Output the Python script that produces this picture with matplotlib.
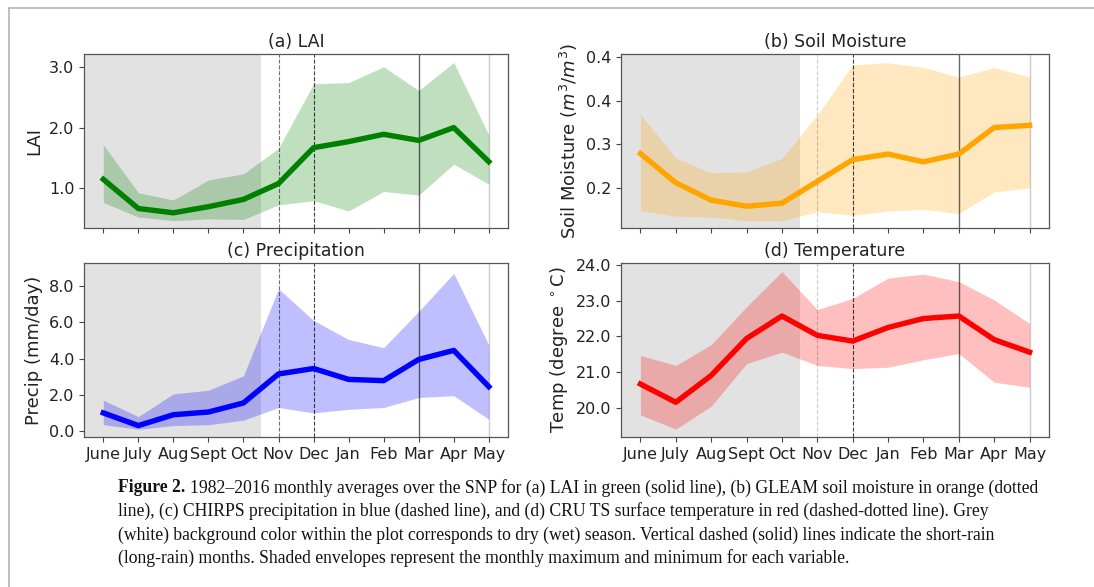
import numpy as np
import matplotlib
matplotlib.use("Agg")
import matplotlib.pyplot as plt
from matplotlib.lines import Line2D

months = ['June', 'July', 'Aug', 'Sept', 'Oct', 'Nov', 'Dec', 'Jan', 'Feb', 'Mar', 'Apr', 'May']

# (a) LAI
lai_mean = [1.15, 0.67, 0.60, 0.70, 0.82, 1.08, 1.67, 1.77, 1.89, 1.79, 2.00, 1.44]
lai_max = [1.72, 0.93, 0.81, 1.14, 1.24, 1.66, 2.72, 2.74, 3.00, 2.61, 3.07, 1.88]
lai_min = [0.77, 0.53, 0.47, 0.50, 0.49, 0.73, 0.80, 0.63, 0.95, 0.89, 1.40, 1.07]

# (b) soil moisture
sm_mean = [0.279, 0.212, 0.172, 0.158, 0.165, 0.215, 0.265, 0.278, 0.260, 0.278, 0.339, 0.344]
sm_max = [0.369, 0.269, 0.235, 0.237, 0.268, 0.368, 0.483, 0.488, 0.477, 0.455, 0.477, 0.455]
sm_min = [0.148, 0.135, 0.133, 0.125, 0.125, 0.145, 0.137, 0.147, 0.151, 0.141, 0.191, 0.200]
sm_ticks = [0.2, 0.3, 0.4, 0.5]
sm_ticklabels = ['0.2', '0.3', '0.4', '0.4']

# (c) precipitation
pr_mean = [1.00, 0.30, 0.90, 1.05, 1.55, 3.15, 3.45, 2.85, 2.78, 3.95, 4.45, 2.45]
pr_max = [1.70, 0.80, 2.05, 2.25, 3.05, 7.85, 6.10, 5.05, 4.60, 6.60, 8.70, 4.75]
pr_min = [0.35, 0.10, 0.30, 0.35, 0.60, 1.30, 1.00, 1.20, 1.30, 1.85, 1.95, 0.65]

# (d) temperature
t_mean = [20.67, 20.16, 20.91, 21.94, 22.57, 22.03, 21.87, 22.25, 22.50, 22.57, 21.91, 21.56]
t_max = [21.47, 21.19, 21.77, 22.83, 23.81, 22.75, 23.06, 23.63, 23.74, 23.53, 23.02, 22.36]
t_min = [19.81, 19.41, 20.05, 21.24, 21.56, 21.19, 21.10, 21.14, 21.35, 21.52, 20.72, 20.58]

caption = [
    "1982\u20132016 monthly averages over the SNP for (a) LAI in green (solid line), (b) GLEAM soil moisture in orange (dotted",
    "line), (c) CHIRPS precipitation in blue (dashed line), and (d) CRU TS surface temperature in red (dashed-dotted line). Grey",
    "(white) background color within the plot corresponds to dry (wet) season. Vertical dashed (solid) lines indicate the short-rain",
    "(long-rain) months. Shaded envelopes represent the monthly maximum and minimum for each variable.",
]

plt.rcParams['font.family'] = ['DejaVu Sans']
fig = plt.figure(figsize=(10.94, 5.87), dpi=100)
x = np.arange(len(months))


def panel(rect, mean, lo, hi, color, title, ylabel, nov_alpha, show_x):
    ax = fig.add_axes(rect)
    ax.axvspan(-0.55, 4.5, color='#e2e2e2', lw=0, zorder=0)
    ax.fill_between(x, lo, hi, color=color, alpha=0.25, lw=0, zorder=1)
    ax.plot(x, mean, color=color, lw=3.9, zorder=3)
    ax.axvline(5, ls='--', color='k', lw=0.8, alpha=nov_alpha, zorder=2)
    ax.axvline(6, ls='--', color='k', lw=0.8, alpha=0.75, zorder=2)
    ax.axvline(9, color='k', lw=1.0, alpha=0.6, zorder=2)
    ax.axvline(11, color='k', lw=1.0, alpha=0.2, zorder=2)
    ax.set_xlim(-0.55, 11.55)
    ax.set_xticks(x)
    if show_x:
        ax.set_xticklabels(months)
    else:
        ax.set_xticklabels([])
    ax.set_title(title, fontsize=12.5, pad=5, color='#222222')
    ax.set_ylabel(ylabel, fontsize=13, color='#222222')
    ax.tick_params(labelsize=11.5, length=3.5, color='#444444', labelcolor='#222222')
    for s in ax.spines.values():
        s.set_color('#555555')
        s.set_linewidth(0.9)
    return ax


ax_a = panel([0.0768, 0.6116, 0.3876, 0.2964], lai_mean, lai_min, lai_max, 'green',
             '(a) LAI', 'LAI', 0.55, False)
ax_a.set_ylim(0.35, 3.21)
ax_a.set_yticks([1.0, 2.0, 3.0])
ax_a.set_yticklabels(['1.0', '2.0', '3.0'])

ax_b = panel([0.5676, 0.6116, 0.3913, 0.2964], sm_mean, sm_min, sm_max, 'orange',
             '(b) Soil Moisture', 'Soil Moisture ($m^3/m^3$)', 0.2, False)
ax_b.set_ylim(0.108, 0.508)
ax_b.set_yticks(sm_ticks)
ax_b.set_yticklabels(sm_ticklabels)

ax_c = panel([0.0768, 0.2555, 0.3876, 0.2964], pr_mean, pr_min, pr_max, 'blue',
             '(c) Precipitation', 'Precip (mm/day)', 0.55, True)
ax_c.set_ylim(-0.33, 9.27)
ax_c.set_yticks([0, 2, 4, 6, 8])
ax_c.set_yticklabels(['0.0', '2.0', '4.0', '6.0', '8.0'])

ax_d = panel([0.5676, 0.2555, 0.3913, 0.2964], t_mean, t_min, t_max, 'red',
             '(d) Temperature', 'Temp (degree $^\\circ$C)', 0.2, True)
ax_d.set_ylim(19.19, 24.05)
ax_d.set_yticks([20, 21, 22, 23, 24])
ax_d.set_yticklabels(['20.0', '21.0', '22.0', '23.0', '24.0'])

# page frame (top and left rules)
fig.add_artist(Line2D([9 / 1094, 1.0], [1 - 8 / 587, 1 - 8 / 587], transform=fig.transFigure,
                      color='#b5b5b5', lw=1.2))
fig.add_artist(Line2D([9 / 1094, 9 / 1094], [0.0, 1 - 8 / 587], transform=fig.transFigure,
                      color='#b5b5b5', lw=1.2))

# caption
cap_font = dict(family='Liberation Serif', fontsize=12.7, color='#111111', va='center')
y0 = 1 - 488 / 587
dy = 23.5 / 587
t = fig.text(118 / 1094, y0, "Figure 2.", fontweight='bold', **cap_font)
fig.canvas.draw()
bb = t.get_window_extent()
fig.text((bb.x1 + 5) / 1094, y0, caption[0], **cap_font)
for i, line in enumerate(caption[1:], start=1):
    fig.text(118 / 1094, y0 - i * dy, line, **cap_font)

fig.savefig('out.png', dpi=100)
